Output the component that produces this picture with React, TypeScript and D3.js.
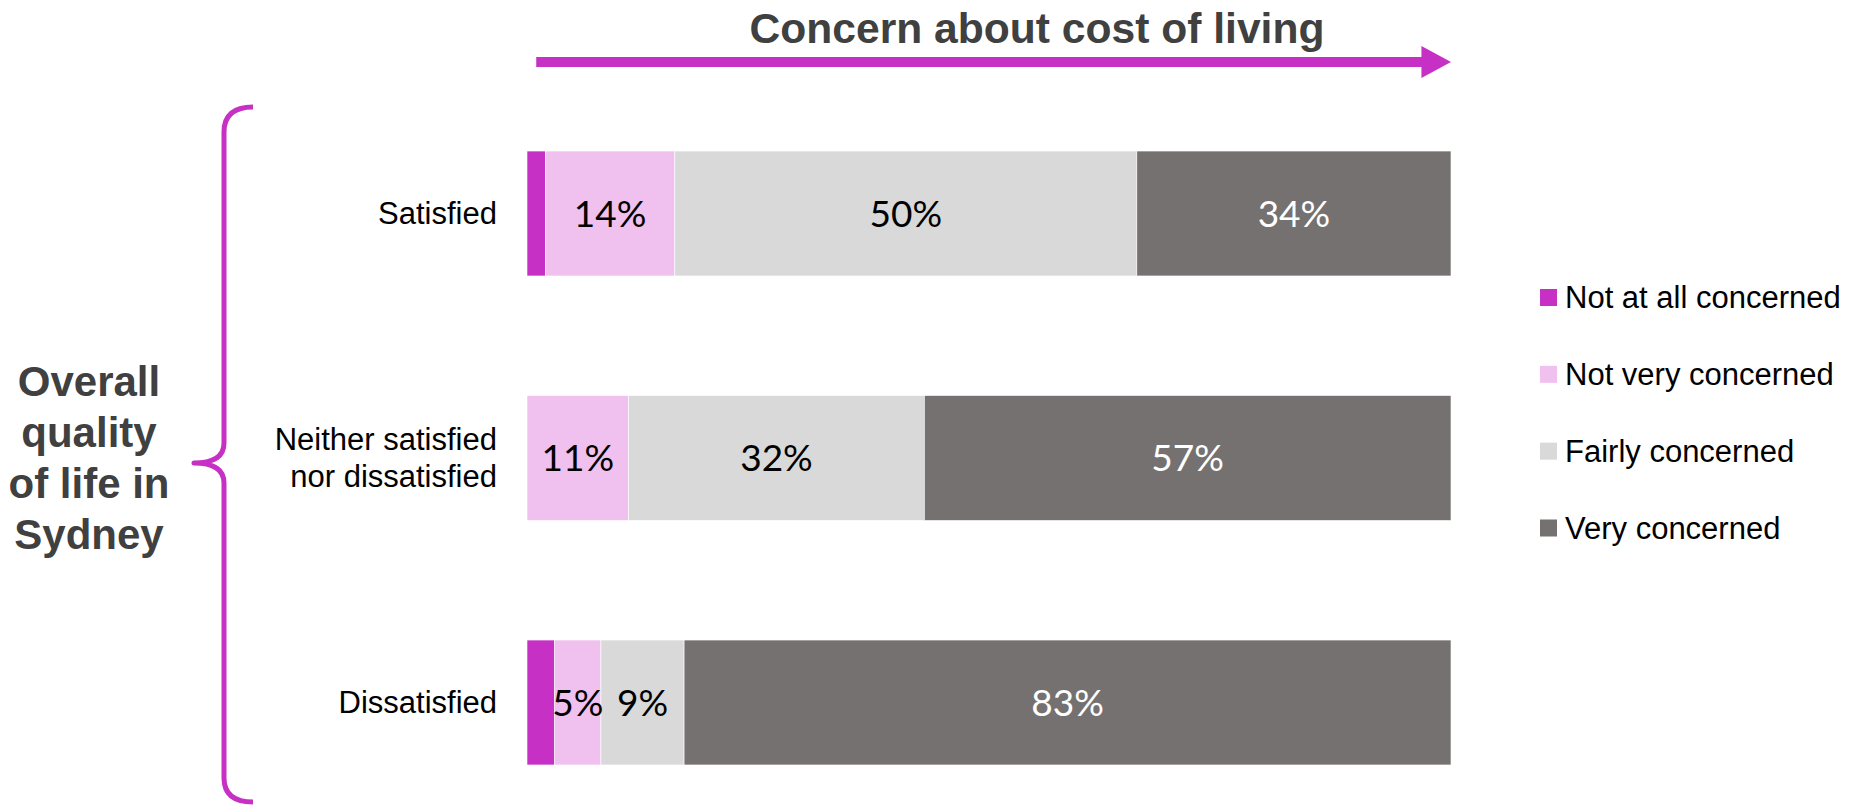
import React from "react";
import * as d3 from "d3";

const categories = ["Satisfied", "Neither satisfied|nor dissatisfied", "Dissatisfied"];
const seriesNames = ["Not at all concerned", "Not very concerned", "Fairly concerned", "Very concerned"];
const seriesColors = ["#C630C4", "#F0C0EE", "#D9D9D9", "#767171"];
const labelColors = ["#000000", "#000000", "#000000", "#FFFFFF"];
const notAtAll = [2, 0, 3];
const notVery = [14, 11, 5];
const fairly = [50, 32, 9];
const very = [34, 57, 83];
const showLabel = [false, true, true, true];
const title = "Concern about cost of living";
const sideTitle = ["Overall", "quality", "of life in", "Sydney"];

const W = 1853;
const H = 805;

export default function App() {
  const series = [notAtAll, notVery, fairly, very];
  const x = d3.scaleLinear().domain([0, 100]).range([527, 1451]);
  const y = d3
    .scaleBand()
    .domain(categories)
    .range([91.25, 824.75])
    .paddingInner(0.489)
    .paddingOuter(0.2445);

  const rows = categories.map((c, i) => {
    let acc = 0;
    return series.map((s, k) => {
      const v = s[i];
      const x0 = acc;
      acc += v;
      return { c, k, v, x0, x1: acc };
    });
  });

  const legendY = d3.scalePoint().domain(seriesNames).range([297.5, 528]);

  const bracePath = "M253,107 Q224,107 224,132 L224,443 Q224,463 194,463 Q224,463 224,483 L224,778 Q224,802 253,802";

  return (
    <svg
      width={W}
      height={H}
      style={{ position: "absolute", left: 0, top: 0, background: "#fff" }}
      fontFamily="'Liberation Sans', Arial, sans-serif"
    >
      {/* title + arrow */}
      <text
        x={1037}
        y={43}
        textAnchor="middle"
        fontSize={42}
        fontWeight="bold"
        fill="#404040"
        textLength={575}
        lengthAdjust="spacingAndGlyphs"
      >
        {title}
      </text>
      <rect x={x(1)} y={57} width={x(97) - x(1)} height={10} fill="#C630C4" />
      <path d={`M${x(96.8)},46 L${x(100)},62 L${x(96.8)},78 Z`} fill="#C630C4" />

      {/* side title with brace */}
      <path d={bracePath} fill="none" stroke="#C630C4" strokeWidth={5} strokeLinejoin="round" />
      {sideTitle.map((t, i) => (
        <text
          key={t}
          x={89}
          y={381 + i * 51}
          dy="0.35em"
          textAnchor="middle"
          fontSize={42}
          fontWeight="bold"
          fill="#404040"
        >
          {t}
        </text>
      ))}

      {/* bars */}
      {rows.map((segs, i) => (
        <g key={categories[i]}>
          {segs.map((s) =>
            s.v > 0 ? (
              <rect
                key={s.k}
                x={x(s.x0)}
                y={y(s.c)}
                width={x(s.x1) - x(s.x0)}
                height={y.bandwidth()}
                fill={seriesColors[s.k]}
                stroke="#ffffff"
                strokeWidth={0.6}
              />
            ) : null
          )}
          {segs.map((s) =>
            s.v > 0 && showLabel[s.k] ? (
              <text
                key={"l" + s.k}
                x={(x(s.x0) + x(s.x1)) / 2}
                y={(y(s.c) as number) + y.bandwidth() / 2}
                dy="0.36em"
                textAnchor="middle"
                fontFamily="Lato, 'Open Sans', sans-serif"
                fontSize={37}
                fill={labelColors[s.k]}
              >
                {s.v + "%"}
              </text>
            ) : null
          )}
          {(() => {
            const lines = categories[i].split("|");
            const cy = (y(categories[i]) as number) + y.bandwidth() / 2;
            const lh = 37;
            return lines.map((ln, j) => (
              <text
                key={"c" + j}
                x={497}
                y={cy + (j - (lines.length - 1) / 2) * lh}
                dy="0.35em"
                textAnchor="end"
                fontSize={31}
                fill="#000"
              >
                {ln}
              </text>
            ));
          })()}
        </g>
      ))}

      {/* legend */}
      {seriesNames.map((n, k) => (
        <g key={n}>
          <rect x={1540} y={(legendY(n) as number) - 8.5} width={17} height={17} fill={seriesColors[k]} />
          <text x={1565} y={legendY(n) as number} dy="0.35em" fontSize={31} fill="#000">
            {n}
          </text>
        </g>
      ))}
    </svg>
  );
}
